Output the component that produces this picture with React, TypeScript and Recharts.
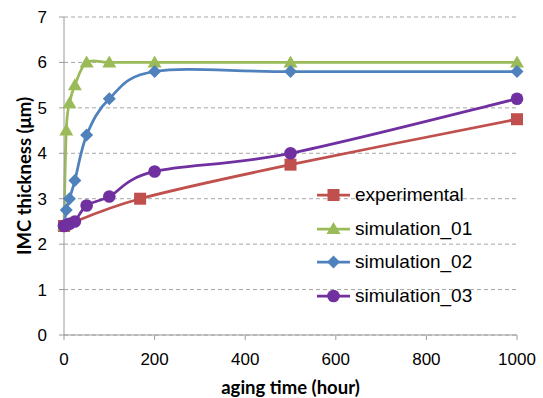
import React from 'react';
import { LineChart, Line, XAxis, YAxis, CartesianGrid } from 'recharts';

// aging time (hour) for each series
const expHours = [0, 168, 500, 1000];
const expThickness = [2.4, 3.0, 3.75, 4.75];

const simHours = [0, 5, 12, 24, 50, 100, 200, 500, 1000];
const sim01Thickness = [2.4, 4.5, 5.1, 5.5, 6.0, 6.0, 6.0, 6.0, 6.0];
const sim02Thickness = [2.4, 2.75, 3.0, 3.4, 4.4, 5.2, 5.8, 5.8, 5.8];
const sim03Thickness = [2.4, 2.42, 2.45, 2.5, 2.85, 3.05, 3.6, 4.0, 5.2];

const xTicks = [0, 200, 400, 600, 800, 1000];
const yTicks = [0, 1, 2, 3, 4, 5, 6, 7];

const toRows = (xs: number[], ys: number[]) => xs.map((x, i) => ({ x, y: ys[i] }));

// Excel-like smoothed line (Catmull-Rom through the points)
function excelCurve(context: any) {
  let pts: number[][] = [];
  return {
    areaStart() {},
    areaEnd() {},
    lineStart() { pts = []; },
    point(x: number, y: number) { pts.push([+x, +y]); },
    lineEnd() {
      if (!pts.length) return;
      context.moveTo(pts[0][0], pts[0][1]);
      for (let i = 0; i < pts.length - 1; i++) {
        const p0 = pts[i - 1] || pts[i];
        const p1 = pts[i];
        const p2 = pts[i + 1];
        const p3 = pts[i + 2] || p2;
        context.bezierCurveTo(
          p1[0] + (p2[0] - p0[0]) / 6, p1[1] + (p2[1] - p0[1]) / 6,
          p2[0] - (p3[0] - p1[0]) / 6, p2[1] - (p3[1] - p1[1]) / 6,
          p2[0], p2[1]
        );
      }
    },
  };
}

type Kind = 'square' | 'triangle' | 'diamond' | 'circle';

function Marker({ cx, cy, kind, color }: { cx: number; cy: number; kind: Kind; color: string }) {
  if (cx == null || cy == null) return null;
  if (kind === 'square') return <rect x={cx - 6} y={cy - 6} width={12} height={12} fill={color} />;
  if (kind === 'triangle')
    return <polygon points={`${cx},${cy - 7} ${cx + 7},${cy + 5} ${cx - 7},${cy + 5}`} fill={color} />;
  if (kind === 'diamond')
    return <polygon points={`${cx},${cy - 6.5} ${cx + 6.5},${cy} ${cx},${cy + 6.5} ${cx - 6.5},${cy}`} fill={color} />;
  return <circle cx={cx} cy={cy} r={6.3} fill={color} />;
}

const series = [
  { name: 'experimental', data: toRows(expHours, expThickness), color: '#C0504D', kind: 'square' as Kind },
  { name: 'simulation_01', data: toRows(simHours, sim01Thickness), color: '#9BBB59', kind: 'triangle' as Kind },
  { name: 'simulation_02', data: toRows(simHours, sim02Thickness), color: '#4F81BD', kind: 'diamond' as Kind },
  { name: 'simulation_03', data: toRows(simHours, sim03Thickness), color: '#7030A0', kind: 'circle' as Kind },
];

const tickFont = { fontFamily: 'Liberation Sans, Arial, sans-serif', fontSize: 17, fill: '#000' };
const titleFont = { fontFamily: 'Lato, sans-serif', fontSize: 18.5, fontWeight: 700, fill: '#000' };

function LegendBox() {
  return (
    <div
      style={{
        position: 'absolute', left: 316, top: 178.25,
        fontFamily: 'Liberation Sans, Arial, sans-serif', fontSize: 19, color: '#000',
      }}
    >
      {series.map(s => (
        <div key={s.name} style={{ display: 'flex', alignItems: 'center', height: 33.5, whiteSpace: 'nowrap' }}>
          <svg width={36} height={20} style={{ marginRight: 3 }}>
            <line x1={1} y1={10} x2={34} y2={10} stroke={s.color} strokeWidth={2.75} />
            <Marker cx={17.5} cy={10} kind={s.kind} color={s.color} />
          </svg>
          <span>{s.name}</span>
        </div>
      ))}
    </div>
  );
}

export default function App() {
  return (
    <div style={{ position: 'absolute', left: 0, top: 0, width: 543, height: 398, background: '#fff' }}>
      <LineChart width={543} height={398} margin={{ top: 17, right: 26, bottom: 0, left: 0 }}>
        <CartesianGrid vertical={false} stroke="#a6a6a6" strokeDasharray="4 3" />
        <XAxis
          dataKey="x"
          type="number"
          domain={[0, 1000]}
          ticks={xTicks}
          height={63}
          tickSize={5}
          tickMargin={13}
          tick={tickFont}
          stroke="#9a9a9a"
          label={{ value: 'aging time (hour)', position: 'center', dy: 21, style: titleFont }}
        />
        <YAxis
          type="number"
          domain={[0, 7]}
          ticks={yTicks}
          width={64}
          tickSize={5}
          tickMargin={12}
          tick={tickFont}
          stroke="#9a9a9a"
          label={{ value: 'IMC thickness (μm)', angle: -90, position: 'center', dx: -8, style: titleFont }}
        />
        {series.map(s => (
          <Line
            key={s.name}
            data={s.data}
            dataKey="y"
            name={s.name}
            type={excelCurve as any}
            stroke={s.color}
            strokeWidth={2.75}
            dot={(p: any) => <Marker key={`${s.name}-${p.index}`} cx={p.cx} cy={p.cy} kind={s.kind} color={s.color} />}
            activeDot={false}
            isAnimationActive={false}
          />
        ))}
      </LineChart>
      <LegendBox />
    </div>
  );
}
